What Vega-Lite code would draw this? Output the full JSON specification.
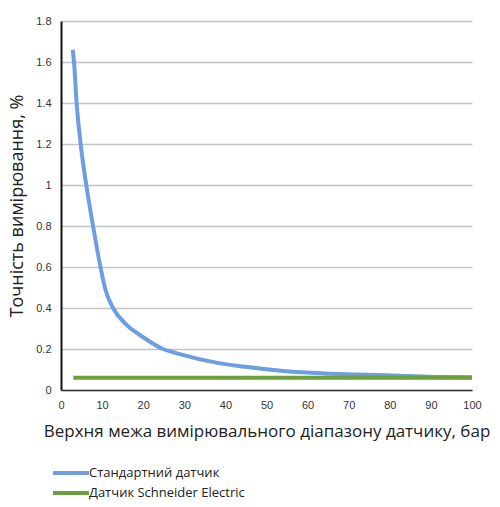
{
  "$schema": "https://vega.github.io/schema/vega-lite/v6.json",
  "width": 411,
  "height": 369,
  "autosize": "none",
  "padding": {"left": 61, "top": 21, "right": 28, "bottom": 117},
  "background": "white",
  "config": {
    "view": {"stroke": null},
    "axis": {"labelFont": "Liberation Sans", "labelFontSize": 11, "labelColor": "#333333", "titleFont": "Open Sans", "titleFontWeight": "normal", "titleColor": "#222222", "ticks": false, "labelFlush": false, "gridColor": "#c4c4c4", "gridWidth": 1.3}
  },
  "data": {
    "values": [
      {"x": 2.85, "y": 1.66, "s": "Стандартний датчик"},
      {"x": 3.16, "y": 1.6, "s": "Стандартний датчик"},
      {"x": 3.8, "y": 1.4, "s": "Стандартний датчик"},
      {"x": 4.78, "y": 1.2, "s": "Стандартний датчик"},
      {"x": 6.15, "y": 1.0, "s": "Стандартний датчик"},
      {"x": 7.8, "y": 0.8, "s": "Стандартний датчик"},
      {"x": 9.6, "y": 0.6, "s": "Стандартний датчик"},
      {"x": 10.8, "y": 0.49, "s": "Стандартний датчик"},
      {"x": 12.8, "y": 0.395, "s": "Стандартний датчик"},
      {"x": 15.6, "y": 0.325, "s": "Стандартний датчик"},
      {"x": 20.1, "y": 0.256, "s": "Стандартний датчик"},
      {"x": 24.8, "y": 0.2, "s": "Стандартний датчик"},
      {"x": 28.2, "y": 0.179, "s": "Стандартний датчик"},
      {"x": 38.7, "y": 0.13, "s": "Стандартний датчик"},
      {"x": 45, "y": 0.113, "s": "Стандартний датчик"},
      {"x": 55.5, "y": 0.09, "s": "Стандартний датчик"},
      {"x": 64, "y": 0.081, "s": "Стандартний датчик"},
      {"x": 71.9, "y": 0.076, "s": "Стандартний датчик"},
      {"x": 82.4, "y": 0.07, "s": "Стандартний датчик"},
      {"x": 92, "y": 0.064, "s": "Стандартний датчик"},
      {"x": 100, "y": 0.062, "s": "Стандартний датчик"},
      {"x": 3, "y": 0.06, "s": "Датчик Schneider Electric"},
      {"x": 100, "y": 0.06, "s": "Датчик Schneider Electric"}
    ]
  },
  "mark": {"type": "line", "interpolate": "monotone", "strokeWidth": 4},
  "encoding": {
    "x": {
      "field": "x", "type": "quantitative",
      "scale": {"domain": [0, 100], "nice": false},
      "axis": {"values": [0, 10, 20, 30, 40, 50, 60, 70, 80, 90, 100], "grid": false, "domainColor": "#333333", "domainWidth": 1.5, "labelPadding": 9, "title": "Верхня межа вимірювального діапазону датчику, бар", "titleFontSize": 17, "titlePadding": 13}
    },
    "y": {
      "field": "y", "type": "quantitative",
      "scale": {"domain": [0, 1.8], "nice": false},
      "axis": {"values": [0, 0.2, 0.4, 0.6, 0.8, 1, 1.2, 1.4, 1.6, 1.8], "format": ".1~f", "domainColor": "#111111", "domainWidth": 2, "labelPadding": 10, "title": "Точність вимірювання, %", "titleFontSize": 18, "titlePadding": 9}
    },
    "color": {
      "field": "s", "type": "nominal",
      "scale": {"domain": ["Стандартний датчик", "Датчик Schneider Electric"], "range": ["#6d9de3", "#6aa13a"]},
      "legend": {"title": null, "orient": "none", "legendX": -10, "legendY": 444, "symbolType": "M-1,0H5", "symbolSize": 144, "symbolStrokeWidth": 4, "labelOffset": 22, "labelFont": "Open Sans", "labelFontSize": 13, "labelColor": "#222222", "rowPadding": 4}
    }
  }
}
